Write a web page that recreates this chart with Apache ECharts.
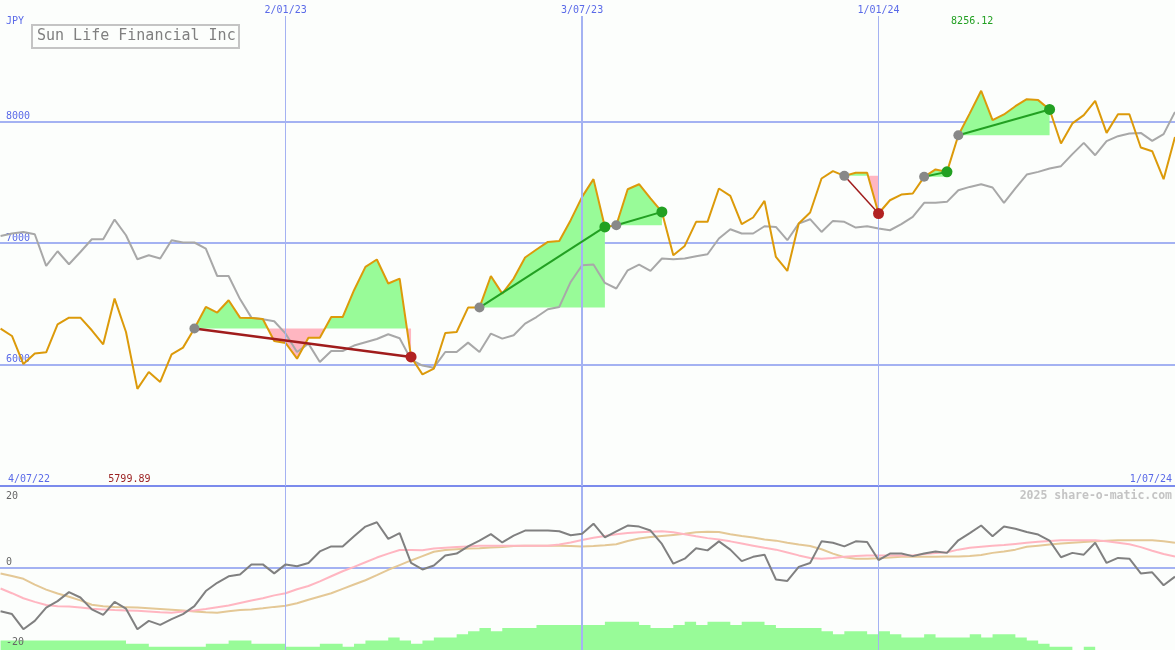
<!DOCTYPE html>
<html><head><meta charset="utf-8">
<script src="https://cdn.jsdelivr.net/npm/echarts@6/dist/echarts.min.js"></script>
<style>html,body{margin:0;padding:0;background:#fcfefc}#c{width:1175px;height:650px}</style>
</head><body><div id="c"></div>
<script>
// ---------- DATA (weekly points, 11/07/22 .. 1/07/24) ----------
const chartTitle = 'Sun Life Financial Inc';
const currency = 'JPY';
const firstDateLabel = '4/07/22';
const lastDateLabel = '1/07/24';
const dateTickIdx = [25, 51, 77];
const dateTickLabels = ['2/01/23', '3/07/23', '1/01/24'];
const priceTicks = [6000, 7000, 8000];
const oscTicks = [-20, 0, 20];
const watermark = '2025 share-o-matic.com';

const closePrice = [
  6297, 6236, 6005, 6091, 6101, 6332, 6387, 6387, 6283, 6167,
  6544, 6269, 5799.89, 5939, 5857, 6085, 6140, 6297, 6475, 6429,
  6530, 6387, 6384, 6376, 6195, 6178, 6049, 6222, 6222, 6392,
  6392, 6613, 6805, 6866, 6668, 6709, 6063, 5920, 5967, 6261,
  6269, 6470, 6470, 6730, 6585, 6709, 6882, 6948, 7011, 7019,
  7190, 7382, 7528, 7134, 7148, 7445, 7486, 7369, 7258, 6901,
  6978, 7176, 7176, 7451, 7390, 7157, 7212, 7349, 6887, 6772,
  7162, 7253, 7533, 7594, 7555, 7580, 7580, 7245, 7354, 7401,
  7410, 7547, 7608, 7588, 7890, 8070, 8256.12, 8014, 8061, 8129,
  8187, 8179, 8102, 7822, 7987, 8055, 8173, 7909, 8063, 8063,
  7789, 7758, 7528, 7876
];
const relativeLine = [
  7060, 7080, 7093, 7074, 6813, 6934, 6827, 6928, 7033, 7033,
  7195, 7066, 6868, 6901, 6874, 7025, 7006, 7006, 6956, 6730,
  6730, 6540, 6387, 6373, 6357, 6255, 6104, 6173, 6021, 6112,
  6112, 6157, 6184, 6211, 6250, 6217, 6041, 5992, 5975, 6104,
  6104, 6181, 6104, 6256, 6214, 6242, 6338, 6392, 6456, 6475,
  6681, 6819, 6824, 6673, 6627, 6777, 6824, 6772, 6874, 6868,
  6874, 6893, 6909, 7039, 7115, 7080, 7080, 7140, 7134, 7025,
  7162, 7198, 7093, 7184, 7176, 7129, 7140, 7121, 7107, 7157,
  7217, 7333, 7333, 7341, 7437, 7464, 7486, 7459, 7333, 7451,
  7566, 7588, 7616, 7635, 7734, 7827, 7725, 7841, 7882, 7904,
  7909, 7843, 7899, 8082
];
const trendStart = [17, 42, 54, 74, 81, 84];
const trendEnd   = [36, 53, 58, 77, 83, 92];

const momentum = [
  -12.0, -12.8, -17.0, -14.7, -11.0, -9.2, -6.7, -8.2, -11.5, -13.0,
  -9.4, -11.3, -17.0, -14.7, -15.8, -14.2, -12.8, -10.6, -6.4, -4.1,
  -2.3, -1.8, 1.0, 1.0, -1.5, 1.0, 0.5, 1.4, 4.6, 6.0,
  6.0, 8.8, 11.5, 12.7, 8.1, 9.7, 1.4, -0.4, 0.7, 3.5,
  4.0, 6.0, 7.6, 9.4, 7.1, 9.0, 10.4, 10.4, 10.4, 10.2,
  9.1, 9.5, 12.3, 8.5, 10.2, 11.8, 11.5, 10.4, 6.7, 1.2,
  2.6, 5.5, 4.9, 7.4, 5.1, 1.9, 3.1, 3.7, -3.2, -3.6,
  0.3, 1.4, 7.4, 7.0, 6.0, 7.4, 7.2, 2.2, 4.0, 4.0,
  3.3, 4.0, 4.6, 4.2, 7.7, 9.7, 11.8, 8.8, 11.5, 10.9,
  10.0, 9.3, 7.6, 3.0, 4.2, 3.7, 7.0, 1.4, 2.8, 2.6,
  -1.5, -1.2, -4.8, -2.4
];
const maFast = [
  -5.7, -7.0, -8.4, -9.4, -10.3, -10.6, -10.7, -11.0, -11.3, -11.5,
  -11.7, -11.8, -11.9, -12.1, -12.3, -12.4, -12.1, -11.8, -11.4, -10.9,
  -10.4, -9.7, -9.0, -8.4, -7.6, -7.0, -5.9, -5.0, -3.7, -2.3,
  -0.9, 0.3, 1.6, 2.9, 4.0, 5.0, 5.0, 4.9, 5.4, 5.6,
  5.8, 6.0, 6.2, 6.2, 6.2, 6.2, 6.2, 6.2, 6.2, 6.5,
  7.1, 7.8, 8.4, 8.9, 9.4, 9.7, 9.9, 10.1, 10.2, 9.9,
  9.4, 8.8, 8.3, 7.9, 7.4, 6.8, 6.2, 5.6, 5.1, 4.3,
  3.5, 2.8, 2.6, 2.8, 3.1, 3.3, 3.5, 3.5, 3.5, 3.5,
  3.5, 3.9, 4.2, 4.4, 5.1, 5.6, 5.9, 6.2, 6.4, 6.7,
  7.0, 7.3, 7.5, 7.7, 7.7, 7.7, 7.7, 7.4, 7.0, 6.6,
  5.8, 4.8, 3.9, 3.2
];
const maSlow = [
  -1.5, -2.2, -3.0, -4.6, -6.0, -7.1, -8.0, -9.0, -10.2, -10.6,
  -10.8, -10.9, -11.0, -11.2, -11.4, -11.6, -11.8, -12.1, -12.3, -12.4,
  -12.0, -11.7, -11.5, -11.2, -10.8, -10.5, -9.8, -8.8, -7.9, -7.0,
  -5.8, -4.6, -3.4, -2.0, -0.5, 0.8, 2.1, 3.3, 4.5, 5.0,
  5.2, 5.4, 5.5, 5.7, 5.8, 6.1, 6.2, 6.2, 6.2, 6.2,
  6.1, 6.0, 6.1, 6.3, 6.6, 7.5, 8.2, 8.6, 8.9, 9.2,
  9.5, 9.9, 10.1, 10.0, 9.4, 8.9, 8.5, 7.9, 7.6, 7.0,
  6.5, 6.1, 5.2, 4.0, 3.0, 2.6, 2.6, 2.7, 2.9, 3.1,
  3.1, 3.1, 3.1, 3.2, 3.2, 3.3, 3.6, 4.2, 4.6, 5.1,
  5.9, 6.2, 6.5, 6.8, 7.0, 7.2, 7.4, 7.6, 7.7, 7.7,
  7.7, 7.7, 7.4, 7.0
];
const volumeLevel = [
  3, 3, 3, 3, 3, 3, 3, 3, 3, 3,
  3, 2, 2, 1, 1, 1, 1, 1, 2, 2,
  3, 3, 2, 2, 2, 1, 1, 1, 2, 2,
  1, 2, 3, 3, 4, 3, 2, 3, 4, 4,
  5, 6, 7, 6, 7, 7, 7, 8, 8, 8,
  8, 8, 8, 9, 9, 9, 8, 7, 7, 8,
  9, 8, 9, 9, 8, 9, 9, 8, 7, 7,
  7, 7, 6, 5, 6, 6, 5, 6, 5, 4,
  4, 5, 4, 4, 4, 5, 4, 5, 5, 4,
  3, 2, 1, 1, 0, 1, 0, 0, 0, 0,
  0, 0, 0, 0
];

// ---------- CHART ----------
const N = closePrice.length;
const pairs = arr => arr.map((v, i) => [i, v]);
const MONO = '"DejaVu Sans Mono", monospace';
const BLUE_TXT = '#5a6ae8';
const GRID_LINE = '#a4b2f2';
const SEP_LINE = '#7b8bec';
const GREEN_FILL = '#98fb98';
const PINK_FILL = '#ffb6c1';

const chart = echarts.init(document.getElementById('c'), null, {renderer: 'canvas'});

function xAx(gi, extra) {
  return Object.assign({type: 'value', gridIndex: gi, min: -0.05, max: N - 1,
    axisLabel: {show: false}, axisTick: {show: false}, splitLine: {show: false},
    axisLine: {show: false}}, extra || {});
}

const vLineData = (withLabel) => dateTickIdx.map((x, k) => ({
  xAxis: x,
  lineStyle: {color: GRID_LINE, width: k === 1 ? 2 : 1, type: 'solid'},
  label: withLabel ? {show: true, formatter: dateTickLabels[k]} : {show: false}
}));

const option = {
  backgroundColor: '#fcfefc',
  animation: false,
  grid: [
    {left: 0, right: 0, top: 16, height: 470},
    {left: 0, right: 0, top: 496, height: 144},
    {left: 0, right: 0, top: 487, height: 163}
  ],
  xAxis: [
    xAx(0, {position: 'bottom', axisLine: {show: true, onZero: false, lineStyle: {color: SEP_LINE, width: 2}}}),
    xAx(1),
    xAx(2)
  ],
  yAxis: [
    {type: 'value', gridIndex: 0, min: 5000, max: 8872, interval: 1000,
      axisLine: {show: false}, axisTick: {show: false},
      splitLine: {show: true, showMinLine: false, showMaxLine: false, lineStyle: {color: GRID_LINE, width: 2}},
      axisLabel: {inside: true, margin: 6, showMinLabel: false, showMaxLabel: false,
        color: BLUE_TXT, fontFamily: MONO, fontSize: 10, verticalAlign: 'bottom',
        formatter: v => priceTicks.includes(v) ? String(v) : ''}},
    {type: 'value', gridIndex: 1, min: -20, max: 20, interval: 20,
      axisLine: {show: false}, axisTick: {show: false}, axisLabel: {show: false},
      splitLine: {show: true, showMinLine: false, showMaxLine: false, lineStyle: {color: GRID_LINE, width: 2}}},
    {type: 'value', gridIndex: 2, min: 0, max: 52, show: false}
  ],
  series: [
    // vertical date lines (top panel) with labels
    {type: 'line', xAxisIndex: 0, yAxisIndex: 0, data: [], z: 1, silent: true,
      markLine: {silent: true, symbol: 'none', animation: false,
        label: {position: 'end', distance: 1, color: BLUE_TXT, fontFamily: MONO, fontSize: 10},
        data: vLineData(true)}},
    // trend fills
    {type: 'custom', xAxisIndex: 0, yAxisIndex: 0, z: 2, silent: true,
      data: trendStart.map((s, k) => [s, trendEnd[k]]),
      renderItem: (params, api) => {
        const k = params.dataIndex;
        const s = trendStart[k], e = trendEnd[k];
        const L = closePrice[s];
        const up = [], dn = [];
        for (let i = s; i <= e; i++) {
          const v = closePrice[i];
          up.push(api.coord([i, Math.max(v, L)]));
          dn.push(api.coord([i, Math.min(v, L)]));
          if (i < e) {
            const w = closePrice[i + 1];
            if ((v - L) * (w - L) < 0) {
              const t = (L - v) / (w - v);
              const c = api.coord([i + t, L]);
              up.push(c); dn.push(c);
            }
          }
        }
        const base = [api.coord([e, L]), api.coord([s, L])];
        return {type: 'group', children: [
          {type: 'polygon', shape: {points: up.concat(base)}, style: {fill: GREEN_FILL}},
          {type: 'polygon', shape: {points: dn.concat(base)}, style: {fill: PINK_FILL}}
        ]};
      }},
    {type: 'line', name: 'relative', xAxisIndex: 0, yAxisIndex: 0, z: 3, data: pairs(relativeLine),
      symbol: 'none', lineStyle: {color: '#a8a8a8', width: 2}},
    {type: 'line', name: 'close', xAxisIndex: 0, yAxisIndex: 0, z: 4, data: pairs(closePrice),
      symbol: 'none', lineStyle: {color: '#dc9a0a', width: 2}},
    // trend lines and markers
    {type: 'custom', xAxisIndex: 0, yAxisIndex: 0, z: 5, silent: true,
      data: trendStart.map((s, k) => [s, trendEnd[k]]),
      renderItem: (params, api) => {
        const k = params.dataIndex;
        const s = trendStart[k], e = trendEnd[k];
        const p0 = api.coord([s, closePrice[s]]);
        const p1 = api.coord([e, closePrice[e]]);
        const up = closePrice[e] >= closePrice[s];
        return {type: 'group', children: [
          {type: 'line', shape: {x1: p0[0], y1: p0[1], x2: p1[0], y2: p1[1]},
            style: {stroke: up ? '#22a022' : '#a01c1c', lineWidth: up ? 2 : (e - s > 5 ? 2.5 : 1.5)}},
          {type: 'circle', shape: {cx: p0[0], cy: p0[1], r: 5}, style: {fill: '#888888'}},
          {type: 'circle', shape: {cx: p1[0], cy: p1[1], r: 5.5}, style: {fill: up ? '#22a022' : '#b22222'}}
        ]};
      }},
    // bottom panel: volume-like steps
    {type: 'line', xAxisIndex: 2, yAxisIndex: 2, z: 2, data: pairs(volumeLevel), step: 'end',
      symbol: 'none', lineStyle: {width: 0}, areaStyle: {color: GREEN_FILL, opacity: 1, origin: 'start'}},
    {type: 'line', xAxisIndex: 2, yAxisIndex: 2, data: [], z: 1, silent: true,
      markLine: {silent: true, symbol: 'none', animation: false, data: vLineData(false)}},
    {type: 'line', xAxisIndex: 1, yAxisIndex: 1, z: 3, data: pairs(maSlow), symbol: 'none',
      lineStyle: {color: '#e4c896', width: 2}},
    {type: 'line', xAxisIndex: 1, yAxisIndex: 1, z: 4, data: pairs(maFast), symbol: 'none',
      lineStyle: {color: '#ffb6c1', width: 2}},
    {type: 'line', xAxisIndex: 1, yAxisIndex: 1, z: 5, data: pairs(momentum), symbol: 'none',
      lineStyle: {color: '#808080', width: 2}}
  ]
};
chart.setOption(option);

// text annotations
let maxI = 0, minI = 0;
closePrice.forEach((v, i) => { if (v > closePrice[maxI]) maxI = i; if (v < closePrice[minI]) minI = i; });
const maxX = chart.convertToPixel({xAxisIndex: 0}, maxI);
const minX = chart.convertToPixel({xAxisIndex: 0}, minI);
const txt = (text, x, y, fill, align, font) => ({type: 'text', x: x, y: y, silent: true, z: 100,
  style: {text: text, fill: fill, align: align, verticalAlign: 'middle', font: font || ('10px ' + MONO)}});
const oscLabels = oscTicks.map(v => {
  const py = chart.convertToPixel({yAxisIndex: 1}, v);
  const shift = v === 0 ? -6 : (v < 0 ? 2.5 : 0);
  return txt(String(v), 6, py + shift, '#666666', 'left');
});
chart.setOption({graphic: [
  {type: 'rect', silent: true, z: 100, shape: {x: 32, y: 25, width: 207, height: 23},
    style: {fill: 'none', stroke: '#c4c4c4', lineWidth: 2}},
  txt(chartTitle, 37, 36.5, '#808080', 'left', '15px ' + MONO),
  txt(currency, 6, 21, BLUE_TXT, 'left'),
  txt(firstDateLabel, 8, 479, BLUE_TXT, 'left'),
  txt(lastDateLabel, 1172, 479, BLUE_TXT, 'right'),
  txt(closePrice[maxI].toFixed(2), maxX - 9, 21, '#22a022', 'center'),
  txt(closePrice[minI].toFixed(2), minX - 8, 479, '#9b2222', 'center'),
  txt(watermark, 1172, 496, '#c4c4c4', 'right', 'bold 11.5px ' + MONO)
].concat(oscLabels)});
</script>
</body></html>
